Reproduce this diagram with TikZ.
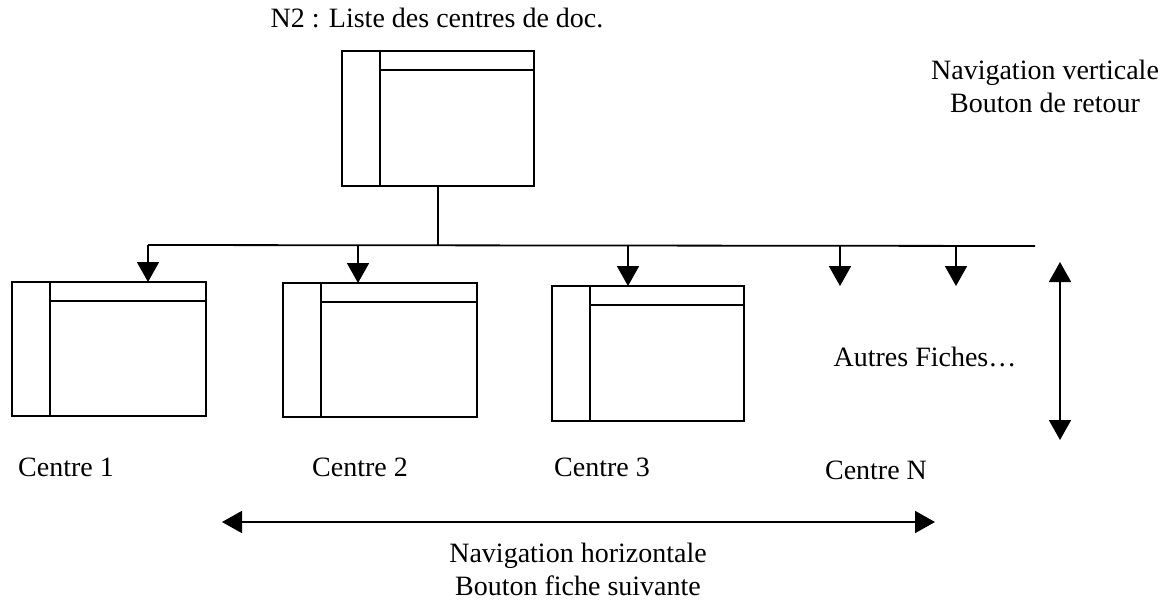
\documentclass[tikz,border=0pt]{standalone}
\usepackage{fontspec}
\setmainfont{Liberation Serif}
\usetikzlibrary{arrows.meta}
\begin{document}
\begin{tikzpicture}[x=1pt,y=-1pt,
  line width=1.8pt,
  win/.style={draw, rectangle, inner sep=0pt, outer sep=0pt,
    path picture={
      \draw[line width=1.8pt] ([xshift=38pt]path picture bounding box.north west) -- ([xshift=38pt]path picture bounding box.south west);
      \draw[line width=1.8pt] ([xshift=38pt,yshift=-19pt]path picture bounding box.north west) -- ([yshift=-19pt]path picture bounding box.north east);
    }},
  lbl/.style={font=\fontsize{28}{33}\selectfont, inner sep=0pt, align=center},
  arr/.style={-{Triangle[length=20pt,width=22pt]}},
  darr/.style={{Triangle[length=20pt,width=22pt]}-{Triangle[length=20pt,width=22pt]}}
]
\useasboundingbox (0,0) rectangle (1176,608);
% windows
\node[win, minimum width=192pt, minimum height=135pt] (top) at (438,118.5) {};
\node[win, minimum width=194pt, minimum height=134pt] (b1) at (109,349) {};
\node[win, minimum width=194pt, minimum height=134pt] (b2) at (380,350) {};
\node[win, minimum width=192pt, minimum height=135pt] (b3) at (648,353.5) {};
% bus
\coordinate (bl) at (148,245);
\coordinate (br) at (1035,246);
\coordinate (j0) at (438,245);
\coordinate (j2) at (358,245);
\coordinate (j3) at (628,245);
\coordinate (j4) at (840,246);
\coordinate (j5) at (956,246);
\coordinate (e4) at (840,286);
\coordinate (e5) at (956,286);
\draw (top.south) -- (j0);
\draw (bl) -- (br);
\draw[arr] (bl) -- (bl |- b1.north);
\draw[arr] (j2) -- (j2 |- b2.north);
\draw[arr] (j3) -- (j3 |- b3.north);
\draw[arr] (j4) -- (e4);
\draw[arr] (j5) -- (e5);
% navigation arrows
\coordinate (vt) at (1060,262);
\coordinate (vb) at (1060,440);
\draw[darr] (vt) -- (vb);
\coordinate (hl) at (222,522);
\coordinate (hr) at (935,522);
\draw[darr] (hl) -- (hr);
% labels
\node[lbl] (t0) at (437,18) {N2 : Liste des centres de doc.};
\node[lbl] (tv) at (1045,86) {Navigation verticale\\Bouton de retour};
\node[lbl] (c1) at (66,467) {Centre 1};
\node[lbl] (c2) at (360,467) {Centre 2};
\node[lbl] (c3) at (602,467) {Centre 3};
\node[lbl] (cn) at (876,470) {Centre N};
\node[lbl] (af) at (925,357) {Autres Fiches…};
\node[lbl] (th) at (578,569) {Navigation horizontale\\Bouton fiche suivante};
\end{tikzpicture}
\end{document}
